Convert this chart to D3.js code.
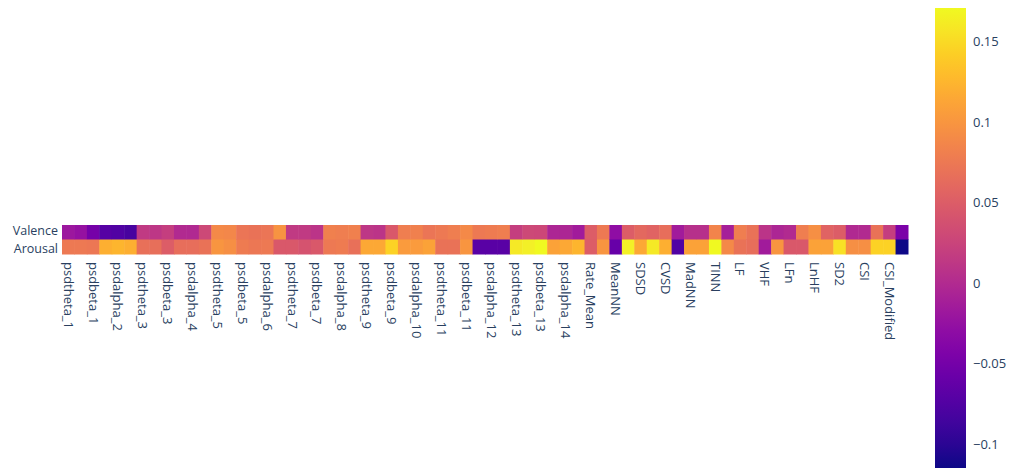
<!DOCTYPE html>
<html>
<head>
<meta charset="utf-8">
<script src="https://cdn.jsdelivr.net/npm/d3@7"></script>
<style>
  body { margin: 0; background: #fff; }
  text { font-family: "Open Sans", "Noto Sans", sans-serif; fill: #2a3f5f; }
</style>
</head>
<body>
<div id="chart"></div>
<script>
// Dados
var rows = ["Valence", "Arousal"];

var features = [
  "psdtheta_1", "psdalpha_1", "psdbeta_1", "psdtheta_2", "psdalpha_2", "psdbeta_2",
  "psdtheta_3", "psdalpha_3", "psdbeta_3", "psdtheta_4", "psdalpha_4", "psdbeta_4",
  "psdtheta_5", "psdalpha_5", "psdbeta_5", "psdtheta_6", "psdalpha_6", "psdbeta_6",
  "psdtheta_7", "psdalpha_7", "psdbeta_7", "psdtheta_8", "psdalpha_8", "psdbeta_8",
  "psdtheta_9", "psdalpha_9", "psdbeta_9", "psdtheta_10", "psdalpha_10", "psdbeta_10",
  "psdtheta_11", "psdalpha_11", "psdbeta_11", "psdtheta_12", "psdalpha_12", "psdbeta_12",
  "psdtheta_13", "psdalpha_13", "psdbeta_13", "psdtheta_14", "psdalpha_14", "psdbeta_14",
  "Rate_Mean", "Rate_SD", "MeanNN", "SDNN", "SDSD", "CVNN", "CVSD", "MedianNN",
  "MadNN", "pNN50", "TINN", "HTI", "LF", "HF", "VHF", "LFHF", "LFn", "HFn",
  "LnHF", "SD1", "SD2", "SD1SD2", "CSI", "CVI", "CSI_Modified", "SampEn"
];

var valence = [
  -0.02, -0.025, -0.05, -0.072, -0.075, -0.082, 0.015, 0.012, 0.02, 0.0,
  -0.002, 0.03, 0.09, 0.088, 0.072, 0.07, 0.072, 0.098, 0.015, 0.015,
  0.01, 0.082, 0.08, 0.082, 0.012, 0.01, 0.045, 0.08, 0.082, 0.072,
  0.075, 0.08, 0.09, 0.075, 0.078, 0.08, 0.02, 0.03, 0.028, -0.005,
  -0.005, -0.015, 0.05, 0.075, -0.03, 0.05, 0.06, 0.055, 0.065, -0.015,
  0.005, 0.005, 0.085, -0.012, 0.08, 0.07, 0.01, -0.005, 0.0, 0.08,
  0.095, 0.055, 0.05, -0.002, 0.0, 0.07, 0.02, -0.045
];

var arousal = [
  0.075, 0.075, 0.074, 0.12, 0.125, 0.12, 0.068, 0.066, 0.05, 0.065,
  0.065, 0.07, 0.1, 0.095, 0.078, 0.074, 0.075, 0.045, 0.045, 0.04,
  0.045, 0.075, 0.078, 0.068, 0.115, 0.115, 0.145, 0.105, 0.105, 0.11,
  0.07, 0.07, 0.1, -0.07, -0.07, -0.07, 0.16, 0.165, 0.171, 0.11,
  0.115, 0.125, 0.05, 0.1, -0.06, 0.165, 0.115, 0.16, 0.12, -0.075,
  0.11, 0.11, 0.171, 0.09, 0.07, 0.065, -0.015, 0.1, 0.045, 0.045,
  0.11, 0.11, 0.155, 0.095, 0.095, 0.145, 0.145, -0.115
];

var colorTicks = [-0.1, -0.05, 0, 0.05, 0.1, 0.15];

// Configura svg
var width = 1013, height = 470;

var svg = d3.select("#chart")
  .append("svg")
  .attr("width", width)
  .attr("height", height);

// Monta tabela de células
var cells = [];
features.forEach(function(f, i) {
  cells.push({ row: "Valence", feature: f, value: valence[i] });
  cells.push({ row: "Arousal", feature: f, value: arousal[i] });
});

var extent = d3.extent(cells, function(d) { return d.value; });

// Escalas
var xScale = d3.scaleBand()
  .domain(features)
  .range([62, 908]);

var yScale = d3.scaleBand()
  .domain(rows)
  .range([225, 254]);

var colorScale = d3.scaleSequential(d3.interpolatePlasma)
  .domain(extent);

// Células do heatmap
svg.selectAll(".cell")
  .data(cells)
  .enter().append("rect")
  .attr("class", "cell")
  .attr("x", function(d) { return xScale(d.feature); })
  .attr("y", function(d) { return yScale(d.row); })
  .attr("width", xScale.bandwidth() + 0.5)
  .attr("height", yScale.bandwidth() + 0.5)
  .attr("fill", function(d) { return colorScale(d.value); });

// Eixo x (plotly mostra só um rótulo a cada dois)
var xAxis = d3.axisBottom(xScale)
  .tickSize(0)
  .tickValues(features.filter(function(d, i) { return i % 2 === 0; }));

svg.append("g")
  .attr("class", "axis x-axis")
  .attr("transform", "translate(0,254)")
  .call(xAxis)
  .call(function(g) { g.select(".domain").remove(); })
  .selectAll("text")
  .attr("transform", "rotate(90)")
  .attr("x", 8)
  .attr("y", 0)
  .attr("dy", "0.35em")
  .style("text-anchor", "start")
  .style("font-size", "13px")
  .style("fill", "#2a3f5f");

// Eixo y
var yAxis = d3.axisLeft(yScale)
  .tickSize(0)
  .tickPadding(3);

svg.append("g")
  .attr("class", "axis y-axis")
  .attr("transform", "translate(61,0)")
  .call(yAxis)
  .call(function(g) { g.select(".domain").remove(); })
  .selectAll("text")
  .attr("dy", function(d) { return d === "Valence" ? "0.2em" : "0.5em"; })
  .style("font-size", "12.5px")
  .style("fill", "#2a3f5f");

// Barra de cores
var cbTop = 8, cbBottom = 468, cbLeft = 935, cbWidth = 31;

var cbScale = d3.scaleLinear()
  .domain(extent)
  .range([cbBottom, cbTop]);

var defs = svg.append("defs");
var grad = defs.append("linearGradient")
  .attr("id", "cb-grad")
  .attr("x1", 0).attr("y1", 1)
  .attr("x2", 0).attr("y2", 0);

grad.selectAll("stop")
  .data(d3.range(0, 1.0001, 0.05))
  .enter().append("stop")
  .attr("offset", function(t) { return t; })
  .attr("stop-color", function(t) { return d3.interpolatePlasma(t); });

svg.append("rect")
  .attr("x", cbLeft)
  .attr("y", cbTop)
  .attr("width", cbWidth)
  .attr("height", cbBottom - cbTop)
  .attr("fill", "url(#cb-grad)");

var cbAxis = d3.axisRight(cbScale)
  .tickValues(colorTicks)
  .tickSize(0)
  .tickPadding(7)
  .tickFormat(d3.format("~g"));

svg.append("g")
  .attr("class", "axis cb-axis")
  .attr("transform", "translate(" + (cbLeft + cbWidth) + ",0)")
  .call(cbAxis)
  .call(function(g) { g.select(".domain").remove(); })
  .selectAll("text")
  .style("font-size", "13px")
  .style("fill", "#2a3f5f");
</script>
</body>
</html>
